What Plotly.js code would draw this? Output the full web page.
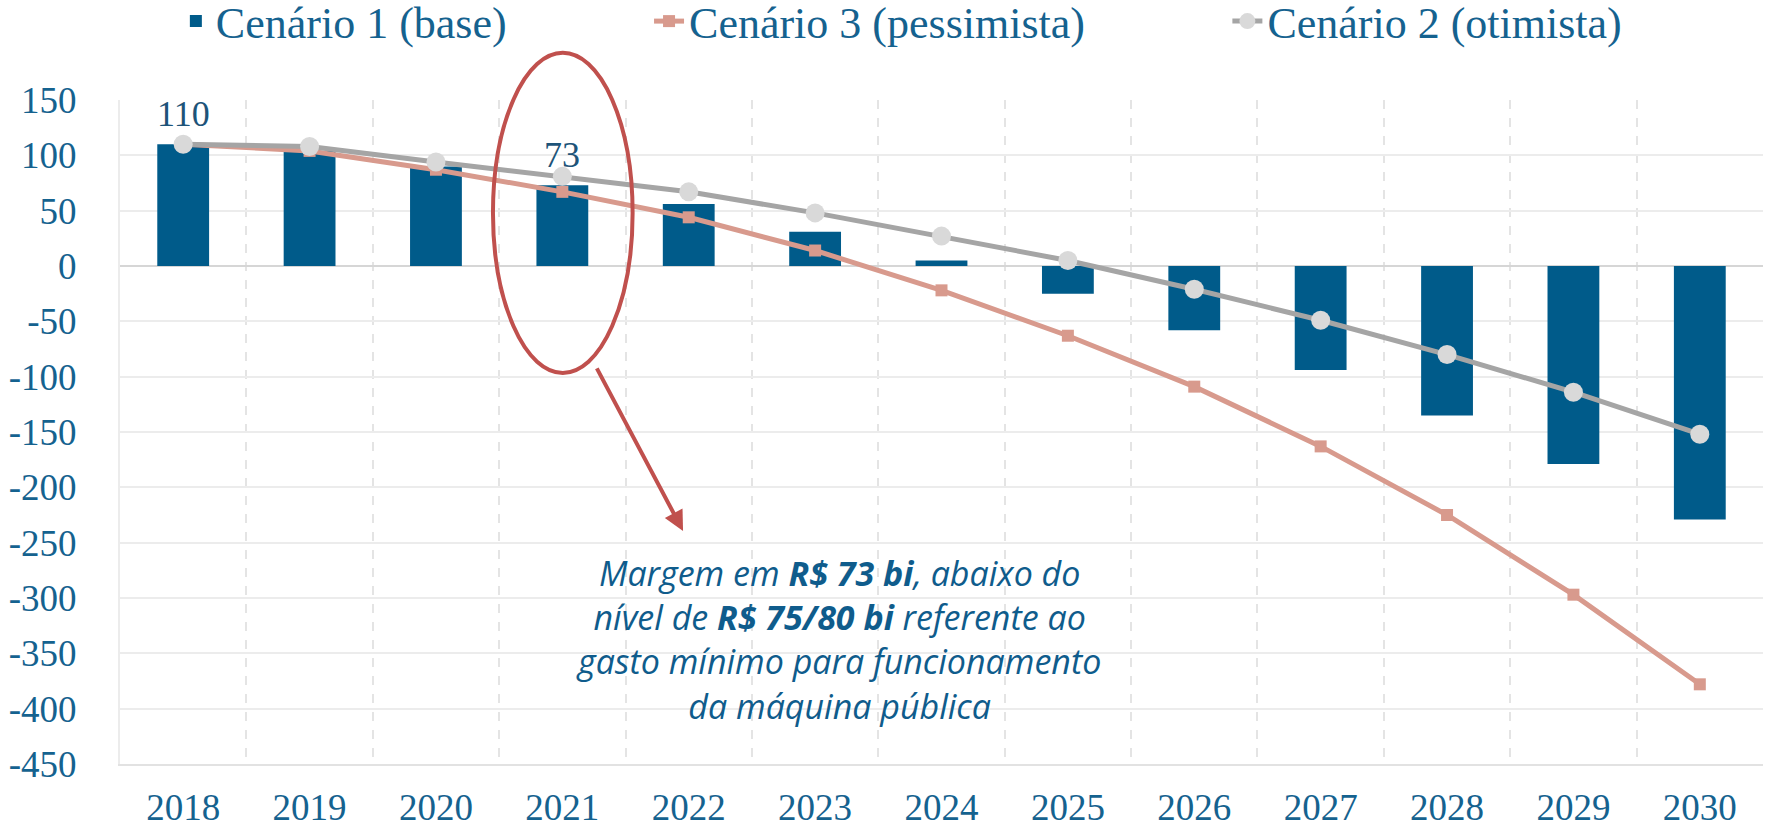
<!DOCTYPE html>
<html>
<head>
<meta charset="utf-8">
<script src="https://cdn.plot.ly/plotly-3.0.1.min.js"></script>
<style>
  body { margin: 0; background: #fff; }
  #chart { width: 1773px; height: 827px; }
</style>
</head>
<body>
<div id="chart"></div>
<script>
// anos do horizonte de projecao
var years = ['2018','2019','2020','2021','2022','2023','2024','2025','2026','2027','2028','2029','2030']
// margem em R$ bi por cenario
var base = [110, 104, 90, 73, 56, 31, 5, -25, -58, -94, -135, -179, -229]
var pessimista = [110, 104, 87, 67, 44, 14, -22, -63, -109, -163, -225, -297, -378]
var otimista = [110, 108, 94, 81, 67, 48, 27, 5, -21, -49, -80, -114, -152]
// anos com rotulo de valor
var labeledYears = ['2018', '2021']
// eixo y
var yTickVals = [150, 100, 50, 0, -50, -100, -150, -200, -250, -300, -350, -400, -450]
var yTickText = ['150', '100', '50', '0', '-50', '-100', '-150', '-200', '-250', '-300', '-350', '-400', '-450']

var blue = '#005b8a'
var txtBlue = '#15628f'
var serif = 'Liberation Serif, DejaVu Serif, serif'

var traceBase = {
    name: 'Cenário 1 (base)',
    x: years,
    y: base,
    type: 'bar',
    marker: {color: blue},
    legend: 'legend'
}
var tracePess = {
    name: 'Cenário 3 (pessimista)',
    x: years,
    y: pessimista,
    type: 'scatter',
    mode: 'lines+markers',
    line: {color: '#d89a8d', width: 5},
    marker: {symbol: 'square', size: 12, color: '#d89a8d'},
    legend: 'legend2'
}
var traceOti = {
    name: 'Cenário 2 (otimista)',
    x: years,
    y: otimista,
    type: 'scatter',
    mode: 'lines+markers',
    line: {color: '#a5a5a5', width: 5},
    marker: {symbol: 'circle', size: 19, color: '#d9d9d9'},
    legend: 'legend3'
}

var annotations = []
for (var i = 0; i < years.length; i++) {
    if (labeledYears.indexOf(years[i]) >= 0) {
        // indice numerico: string '2018' vira numero no eixo de categorias
        annotations.push({
            x: i, y: base[i], xref: 'x', yref: 'y',
            text: String(base[i]), showarrow: false, yshift: 30,
            font: {family: serif, size: 36, color: '#1d5479'}
        })
    }
}
// seta vermelha
annotations.push({
    x: 0.3427, y: 0.351, xref: 'paper', yref: 'paper',
    text: '', showarrow: true, arrowhead: 2, arrowsize: 1, arrowwidth: 4,
    arrowcolor: '#c0504d', ax: -87, ay: -164
})
// comentario
annotations.push({
    x: 0.4376, y: 0.188, xref: 'paper', yref: 'paper',
    xanchor: 'center', yanchor: 'middle',
    showarrow: false, align: 'center',
    text: '<i>Margem em <b>R$ 73 bi</b>, abaixo do<br>nível de <b>R$ 75/80 bi</b> referente ao<br>gasto mínimo para funcionamento<br>da máquina pública</i>',
    font: {family: 'Open Sans, Noto Sans, sans-serif', size: 34, color: '#0f5c8c'}
})

var legendBase = {
    orientation: 'h', yref: 'container', yanchor: 'middle', xanchor: 'left', y: 0.974,
    font: {family: serif, size: 44, color: txtBlue},
    bgcolor: 'rgba(0,0,0,0)', itemwidth: 30
}

var layout = {
    width: 1773,
    height: 827,
    margin: {l: 120, r: 10, t: 100, b: 63, autoexpand: false},
    paper_bgcolor: '#fff',
    plot_bgcolor: '#fff',
    bargap: 0.59,
    showlegend: true,
    legend: Object.assign({}, legendBase, {x: 0.034}),
    legend2: Object.assign({}, legendBase, {x: 0.322}),
    legend3: Object.assign({}, legendBase, {x: 0.674}),
    xaxis: {
        type: 'category',
        range: [-0.5, years.length - 0.5],
        tickson: 'boundaries',
        showgrid: true,
        gridcolor: '#e4e4e4',
        griddash: 'dash',
        gridwidth: 2,
        ticks: '',
        showline: true,
        linecolor: '#e2e2e2',
        linewidth: 2,
        mirror: false,
        ticklabelstandoff: 10,
        tickfont: {family: serif, size: 37, color: txtBlue}
    },
    yaxis: {
        range: [-450, 150],
        tickvals: yTickVals,
        ticktext: yTickText,
        showgrid: true,
        gridcolor: '#ececec',
        gridwidth: 2,
        zeroline: true,
        zerolinecolor: '#d6d6d6',
        zerolinewidth: 2,
        showline: true,
        linecolor: '#ececec',
        linewidth: 2,
        griddash: 'solid',
        ticks: '',
        ticklabelstandoff: 34,
        tickfont: {family: serif, size: 37, color: txtBlue}
    },
    shapes: [{
        type: 'circle', xref: 'paper', yref: 'paper',
        x0: 0.227, x1: 0.312, y0: 0.589, y1: 1.071,
        line: {color: '#c0504d', width: 4}
    }],
    annotations: annotations
}

Plotly.newPlot('chart', [traceBase, tracePess, traceOti], layout, {displayModeBar: false, staticPlot: true})
</script>
</body>
</html>
